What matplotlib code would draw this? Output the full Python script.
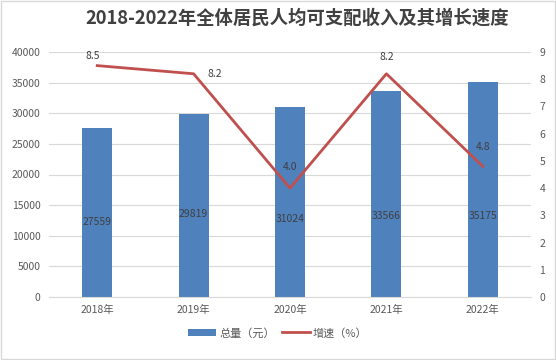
import matplotlib.pyplot as plt
import numpy as np

plt.rcParams['font.family'] = ['Noto Sans CJK SC', 'DejaVu Sans']

years = ["2018年", "2019年", "2020年", "2021年", "2022年"]
totals = [27559, 29819, 31024, 33566, 35175]
growth = [8.5, 8.2, 4.0, 8.2, 4.8]

bar_color = "#4F81BD"
line_color = "#C0504D"
text_color = "#595959"

fig = plt.figure(figsize=(5.56, 3.6), dpi=100)
ax = fig.add_axes([49 / 556, 1 - 297 / 360, 482 / 556, 245 / 360])
x = np.arange(len(years))

ax.bar(x, totals, width=0.31, color=bar_color, zorder=2, label="总量（元）")
ax.set_ylim(0, 40000)
ax.set_yticks(range(0, 40001, 5000))
ax.set_xlim(-0.5, 4.5)
ax.set_xticks(x)
ax.set_xticklabels(years)
ax.grid(axis="y", color="#D9D9D9", linewidth=0.8, zorder=0)
for s in ax.spines.values():
    s.set_visible(False)
ax.spines["bottom"].set_visible(True)
ax.spines["bottom"].set_color("#D9D9D9")
ax.tick_params(axis="both", length=0, labelsize=7.5, colors=text_color)
ax.tick_params(axis="y", pad=6)
ax.tick_params(axis="x", pad=6)
# bar labels sit a bit below the bar middle, as in the source
bar_dy = [-7, -6, -12, -16, -19]
for xi, v, dy in zip(x, totals, bar_dy):
    ax.annotate(str(v), (xi, v / 2), xytext=(0, dy), textcoords="offset points",
                ha="center", va="center", fontsize=7.5, color="#404040", zorder=4)

ax2 = ax.twinx()
ax2.plot(x, growth, color=line_color, linewidth=2, zorder=3, label="增速（%）")
ax2.set_ylim(0, 9)
ax2.set_yticks(range(0, 10))
for s in ax2.spines.values():
    s.set_visible(False)
ax2.tick_params(axis="y", length=0, labelsize=7.5, colors=text_color, pad=6)
offsets = [(-3.5, 7), (15, 0), (0, 15), (0, 12), (0, 14)]
for xi, v, (dx, dy) in zip(x, growth, offsets):
    ax2.annotate(f"{v:.1f}", (xi, v), xytext=(dx, dy), textcoords="offset points",
                 ha="center", va="center", fontsize=7.5, color="#404040")

fig.suptitle("2018-2022年全体居民人均可支配收入及其增长速度", x=297 / 556, y=0.975,
             fontsize=13.2, fontweight="bold", color="#404040")

h1, l1 = ax.get_legend_handles_labels()
h2, l2 = ax2.get_legend_handles_labels()
fig.legend(h1 + h2, l1 + l2, loc="center", bbox_to_anchor=(0.5, 1 - 333 / 360),
           ncol=2, frameon=False, fontsize=8, labelcolor=text_color,
           handlelength=2.5, columnspacing=0.6, handletextpad=0.3)

fig.patches.append(plt.Rectangle((0.002, 0.003), 0.996, 0.994, transform=fig.transFigure,
                                 fill=False, edgecolor="#D9D9D9", linewidth=1))

fig.savefig("out.png", dpi=100)
